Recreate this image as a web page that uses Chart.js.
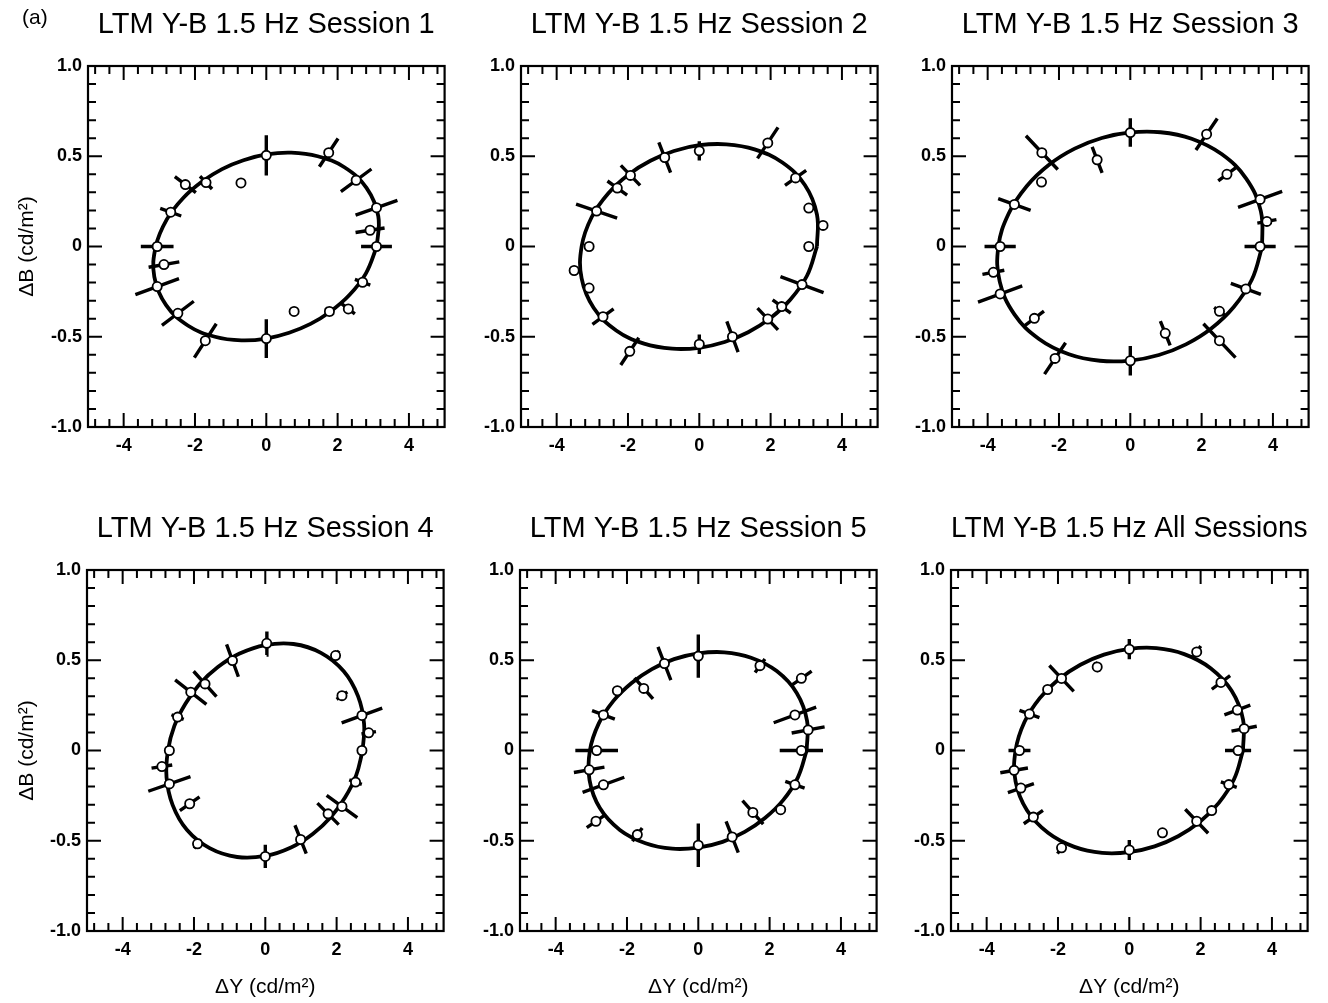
<!DOCTYPE html>
<html>
<head>
<meta charset="utf-8">
<title>LTM Y-B 1.5 Hz</title>
<script src="https://cdn.jsdelivr.net/npm/chart.js@4.4.0/dist/chart.umd.min.js"></script>
<style>
  html, body { margin: 0; padding: 0; background: #fff; }
  body { width: 1328px; height: 1003px; position: relative; overflow: hidden; }
  canvas { position: absolute; }
</style>
</head>
<body>
<canvas id="c1"></canvas>
<canvas id="c2"></canvas>
<canvas id="c3"></canvas>
<canvas id="c4"></canvas>
<canvas id="c5"></canvas>
<canvas id="c6"></canvas>
<script>
// ---- labels ----
const panelLabel = '(a)';
const titles = [
  'LTM Y-B 1.5 Hz Session 1',
  'LTM Y-B 1.5 Hz Session 2',
  'LTM Y-B 1.5 Hz Session 3',
  'LTM Y-B 1.5 Hz Session 4',
  'LTM Y-B 1.5 Hz Session 5',
  'LTM Y-B 1.5 Hz All Sessions'
];
const xAxisTitle = 'ΔY (cd/m²)';
const yAxisTitle = 'ΔB (cd/m²)';
const xTickValues = [-4, -2, 0, 2, 4];
const xTickLabels = ['-4', '-2', '0', '2', '4'];
const yTickValues = [-1, -0.5, 0, 0.5, 1];
const yTickLabels = ['-1.0', '-0.5', '0', '0.5', '1.0'];

// ---- fitted ellipses ----
const s1CurveX = [3.10, 3.14, 2.81, 2.19, 1.44, 0.70, 0, -0.64, -1.24, -1.80, -2.33, -2.79, -3.10, -3.14, -2.81, -2.19, -1.44, -0.70, 0, 0.64, 1.24, 1.80, 2.33, 2.79];
const s1CurveY = [0, 0.168, 0.325, 0.439, 0.500, 0.520, 0.510, 0.478, 0.429, 0.360, 0.269, 0.150, 0, -0.168, -0.325, -0.439, -0.500, -0.520, -0.510, -0.478, -0.429, -0.360, -0.269, -0.150];
const s2CurveX = [3.30, 3.30, 2.96, 2.33, 1.55, 0.76, 0, -0.71, -1.37, -1.99, -2.55, -3.02, -3.30, -3.30, -2.96, -2.33, -1.55, -0.76, 0, 0.71, 1.37, 1.99, 2.55, 3.02];
const s2CurveY = [0, 0.177, 0.341, 0.465, 0.538, 0.566, 0.561, 0.529, 0.475, 0.398, 0.295, 0.162, 0, -0.177, -0.341, -0.465, -0.538, -0.566, -0.561, -0.529, -0.475, -0.398, -0.295, -0.162];
const s3CurveX = [3.70, 3.66, 3.25, 2.56, 1.72, 0.85, 0, -0.80, -1.56, -2.27, -2.90, -3.41, -3.70, -3.66, -3.25, -2.56, -1.72, -0.85, 0, 0.80, 1.56, 2.27, 2.90, 3.41];
const s3CurveY = [0, 0.196, 0.376, 0.512, 0.597, 0.633, 0.632, 0.601, 0.542, 0.454, 0.335, 0.183, 0, -0.196, -0.376, -0.512, -0.597, -0.633, -0.632, -0.601, -0.542, -0.454, -0.335, -0.183];
const s4CurveX = [2.73, 2.77, 2.60, 2.20, 1.56, 0.79, 0, -0.72, -1.33, -1.84, -2.24, -2.55, -2.73, -2.77, -2.60, -2.20, -1.56, -0.79, 0, 0.72, 1.33, 1.84, 2.24, 2.55];
const s4CurveY = [0, 0.148, 0.301, 0.439, 0.541, 0.590, 0.584, 0.537, 0.462, 0.368, 0.259, 0.136, 0, -0.148, -0.301, -0.439, -0.541, -0.590, -0.584, -0.537, -0.462, -0.368, -0.259, -0.136];
const s5CurveX = [3.04, 3.05, 2.76, 2.20, 1.48, 0.73, 0, -0.68, -1.30, -1.87, -2.38, -2.79, -3.04, -3.05, -2.76, -2.20, -1.48, -0.73, 0, 0.68, 1.30, 1.87, 2.38, 2.79];
const s5CurveY = [0, 0.164, 0.319, 0.440, 0.514, 0.544, 0.538, 0.506, 0.451, 0.374, 0.275, 0.150, 0, -0.164, -0.319, -0.440, -0.514, -0.544, -0.538, -0.506, -0.451, -0.374, -0.275, -0.150];
const s6CurveX = [3.19, 3.19, 2.87, 2.28, 1.54, 0.76, 0, -0.71, -1.37, -1.98, -2.51, -2.94, -3.19, -3.19, -2.87, -2.28, -1.54, -0.76, 0, 0.71, 1.37, 1.98, 2.51, 2.94];
const s6CurveY = [0, 0.171, 0.331, 0.456, 0.534, 0.567, 0.563, 0.531, 0.475, 0.395, 0.290, 0.158, 0, -0.171, -0.331, -0.456, -0.534, -0.567, -0.563, -0.531, -0.475, -0.395, -0.290, -0.158];

// ---- thresholds: position and relative error along the test direction ----
const s1X = [0, 1.75, 2.52, 3.09, 2.91, 3.09, 2.70, 2.30, 1.77, 0.78, 0, -1.71, -2.48, -3.06, -2.87, -3.06, -2.68, -2.27, -1.69, -0.71];
const s1Y = [0.505, 0.52, 0.367, 0.215, 0.09, 0, -0.198, -0.346, -0.36, -0.36, -0.51, -0.522, -0.37, -0.222, -0.1, 0, 0.19, 0.343, 0.354, 0.352];
const s1Err = [0.22, 0.15, 0.17, 0.19, 0.14, 0.14, 0.08, 0.08, 0.06, 0, 0.21, 0.18, 0.18, 0.2, 0.15, 0.15, 0.11, 0.13, 0.1, 0];

const s2X = [-0.97, 0, 1.92, 2.70, 3.07, 3.47, 3.07, 2.88, 2.31, 1.92, 0.93, 0, -1.95, -2.70, -3.09, -3.51, -3.09, -2.88, -2.30, -1.93];
const s2Y = [0.493, 0.53, 0.574, 0.38, 0.213, 0.117, 0, -0.211, -0.333, -0.402, -0.5, -0.541, -0.581, -0.389, -0.23, -0.133, 0, 0.196, 0.324, 0.394];
const s2Err = [0.17, 0.1, 0.15, 0.11, 0.04, 0.03, 0.03, 0.21, 0.11, 0.15, 0.17, 0.1, 0.13, 0.11, 0.03, 0.03, 0.03, 0.2, 0.12, 0.14];

const s3X = [0, 2.14, 2.71, 3.64, 3.83, 3.64, 3.24, 2.50, 2.50, 0.98, 0, -2.11, -2.69, -3.65, -3.84, -3.65, -3.25, -2.49, -2.48, -0.93];
const s3Y = [0.631, 0.622, 0.40, 0.261, 0.139, 0, -0.235, -0.359, -0.522, -0.481, -0.633, -0.62, -0.398, -0.263, -0.143, 0, 0.233, 0.357, 0.52, 0.48];
const s3Err = [0.125, 0.14, 0.09, 0.17, 0.07, 0.12, 0.13, 0.06, 0.18, 0.14, 0.13, 0.14, 0.1, 0.17, 0.08, 0.12, 0.14, 0.04, 0.18, 0.15];

const s4X = [0.04, 1.97, 2.15, 2.71, 2.90, 2.71, 2.53, 2.15, 1.76, 0.99, 0, -1.90, -2.12, -2.69, -2.90, -2.69, -2.46, -2.09, -1.69, -0.92];
const s4Y = [0.594, 0.526, 0.304, 0.194, 0.098, 0, -0.175, -0.31, -0.351, -0.493, -0.587, -0.517, -0.295, -0.185, -0.089, 0, 0.185, 0.323, 0.369, 0.498];
const s4Err = [0.11, 0.05, 0.07, 0.21, 0.07, 0.03, 0.07, 0.2, 0.17, 0.16, 0.11, 0.05, 0.13, 0.22, 0.1, 0.03, 0.07, 0.21, 0.19, 0.18];

const s5X = [0, -0.95, 1.73, 2.89, 2.71, 3.08, 2.89, 2.71, 2.31, 1.53, 0.95, 0, -1.71, -2.87, -2.66, -3.06, -2.85, -2.66, -2.27, -1.53];
const s5Y = [0.523, 0.482, 0.47, 0.40, 0.197, 0.114, 0, -0.19, -0.328, -0.343, -0.479, -0.525, -0.466, -0.392, -0.19, -0.107, 0, 0.197, 0.331, 0.344];
const s5Err = [0.23, 0.19, 0.08, 0.1, 0.22, 0.15, 0.21, 0.1, 0.03, 0.19, 0.18, 0.23, 0.08, 0.09, 0.22, 0.14, 0.21, 0.12, 0.04, 0.17];

const s6X = [0, -0.90, 1.89, 2.57, 3.03, 3.22, 3.05, 2.79, 2.31, 1.89, 0.93, 0, -1.90, -2.69, -3.04, -3.23, -3.08, -2.80, -2.29, -1.90];
const s6Y = [0.561, 0.463, 0.546, 0.377, 0.224, 0.121, 0, -0.189, -0.333, -0.392, -0.456, -0.551, -0.539, -0.369, -0.208, -0.11, 0, 0.202, 0.338, 0.399];
const s6Err = [0.1, 0.06, 0.06, 0.1, 0.12, 0.11, 0.12, 0.08, 0.03, 0.17, 0.05, 0.1, 0.06, 0.1, 0.12, 0.12, 0.1, 0.1, 0.03, 0.18];

// ---- helpers ----
const FONT = "'Liberation Sans', Arial, Helvetica, sans-serif";

function toPoints(xs, ys) {
  return xs.map((x, i) => ({ x: x, y: ys[i] }));
}

function closedCurve(xs, ys) {
  const pts = toPoints(xs, ys);
  pts.push(pts[0]);
  return pts;
}

// radial error bars: each bar lies on the line from the origin through the point
function errorBars(xs, ys, errs) {
  const out = [];
  xs.forEach((x, i) => {
    const y = ys[i], e = errs[i];
    if (!e) return;
    out.push({ x: x * (1 - e), y: y * (1 - e) });
    out.push({ x: x * (1 + e), y: y * (1 + e) });
    out.push({ x: null, y: null });
  });
  return out;
}

// box with inward ticks on all four sides
const frameTicks = {
  id: 'frameTicks',
  afterDatasetsDraw(chart) {
    const { ctx, chartArea: a, scales: { x, y } } = chart;
    ctx.save();
    ctx.strokeStyle = '#000';
    ctx.lineWidth = 2;
    ctx.beginPath();
    for (let k = -12; k <= 12; k++) {
      const v = k * 0.4;
      const len = k % 5 === 0 ? 14 : 8;
      const px = x.getPixelForValue(v);
      ctx.moveTo(px, a.bottom); ctx.lineTo(px, a.bottom - len);
      ctx.moveTo(px, a.top); ctx.lineTo(px, a.top + len);
    }
    for (let k = -9; k <= 9; k++) {
      const v = k * 0.1;
      const len = k % 5 === 0 ? 14 : 8;
      const py = y.getPixelForValue(v);
      ctx.moveTo(a.left, py); ctx.lineTo(a.left + len, py);
      ctx.moveTo(a.right, py); ctx.lineTo(a.right - len, py);
    }
    ctx.stroke();
    ctx.lineWidth = 2.2;
    ctx.strokeRect(a.left, a.top, a.right - a.left, a.bottom - a.top);
    ctx.restore();
  }
};

const panelTag = {
  id: 'panelTag',
  afterDraw(chart, args, opts) {
    if (!opts.text) return;
    const ctx = chart.ctx;
    ctx.save();
    ctx.fillStyle = '#000';
    ctx.font = '21px ' + FONT;
    ctx.textAlign = 'left';
    ctx.textBaseline = 'middle';
    ctx.fillText(opts.text, 22, 10);
    ctx.restore();
  }
};

const PLOT_W = 359;
const PLOT_H = 361;
const TITLE_SIZE = 29;
const TITLE_BLOCK = 58;

const panels = [
  { id: 'c1', left: 0,   top: 8,   yw: 88, xh: 40, yTitle: true,  xTitle: false, title: titles[0], cx: s1CurveX, cy: s1CurveY, px: s1X, py: s1Y, pe: s1Err, tag: panelLabel },
  { id: 'c2', left: 471, top: 8,   yw: 50, xh: 40, yTitle: false, xTitle: false, title: titles[1], cx: s2CurveX, cy: s2CurveY, px: s2X, py: s2Y, pe: s2Err },
  { id: 'c3', left: 902, top: 8,   yw: 50, xh: 40, yTitle: false, xTitle: false, title: titles[2], cx: s3CurveX, cy: s3CurveY, px: s3X, py: s3Y, pe: s3Err },
  { id: 'c4', left: 0,   top: 512, yw: 87, xh: 70, yTitle: true,  xTitle: true,  title: titles[3], cx: s4CurveX, cy: s4CurveY, px: s4X, py: s4Y, pe: s4Err },
  { id: 'c5', left: 470, top: 512, yw: 50, xh: 70, yTitle: false, xTitle: true,  title: titles[4], cx: s5CurveX, cy: s5CurveY, px: s5X, py: s5Y, pe: s5Err },
  { id: 'c6', left: 901, top: 512, yw: 50, xh: 70, yTitle: false, xTitle: true,  title: titles[5], cx: s6CurveX, cy: s6CurveY, px: s6X, py: s6Y, pe: s6Err }
];

panels.forEach(p => {
  const canvas = document.getElementById(p.id);
  canvas.width = p.yw + PLOT_W + 4;
  canvas.height = TITLE_BLOCK + PLOT_H + p.xh;
  canvas.style.left = p.left + 'px';
  canvas.style.top = p.top + 'px';

  new Chart(canvas.getContext('2d'), {
    type: 'scatter',
    data: {
      datasets: [
        {
          data: toPoints(p.px, p.py),
          pointRadius: 4.6,
          pointBackgroundColor: '#fff',
          pointBorderColor: '#000',
          pointBorderWidth: 1.8,
          showLine: false,
          order: 0
        },
        {
          data: errorBars(p.px, p.py, p.pe),
          showLine: true,
          borderColor: '#000',
          borderWidth: 3.4,
          pointRadius: 0,
          tension: 0,
          spanGaps: false,
          order: 1
        },
        {
          data: closedCurve(p.cx, p.cy),
          showLine: true,
          borderColor: '#000',
          borderWidth: 3.8,
          pointRadius: 0,
          tension: 0.4,
          order: 2
        }
      ]
    },
    options: {
      responsive: false,
      animation: false,
      events: [],
      layout: { padding: { left: 0, right: 4, top: 0, bottom: 0 } },
      plugins: {
        legend: { display: false },
        tooltip: { enabled: false },
        title: {
          display: true,
          text: p.title,
          fullSize: false,
          color: '#000',
          font: { family: FONT, size: TITLE_SIZE, weight: 'normal' },
          padding: { top: 0, bottom: TITLE_BLOCK - TITLE_SIZE * 1.2 }
        },
        panelTag: { text: p.tag || '' }
      },
      scales: {
        x: {
          type: 'linear',
          min: -5,
          max: 5,
          afterBuildTicks: s => { s.ticks = xTickValues.map(v => ({ value: v })); },
          afterFit: s => { s.height = p.xh; },
          grid: { display: false, drawTicks: false },
          border: { display: false },
          ticks: {
            autoSkip: false,
            maxRotation: 0,
            padding: 8,
            color: '#000',
            font: { family: FONT, size: 18, weight: 'bold' },
            callback: (v, i) => xTickLabels[i]
          },
          title: {
            display: p.xTitle,
            text: xAxisTitle,
            color: '#000',
            font: { family: FONT, size: 21 },
            padding: { top: 0, bottom: 1 }
          }
        },
        y: {
          type: 'linear',
          min: -1,
          max: 1,
          afterBuildTicks: s => { s.ticks = yTickValues.map(v => ({ value: v })); },
          afterFit: s => { s.width = p.yw; },
          grid: { display: false, drawTicks: false },
          border: { display: false },
          ticks: {
            autoSkip: false,
            padding: 6,
            color: '#000',
            font: { family: FONT, size: 18, weight: 'bold' },
            callback: (v, i) => yTickLabels[i]
          },
          title: {
            display: p.yTitle,
            text: yAxisTitle,
            color: '#000',
            font: { family: FONT, size: 21 },
            padding: { top: 14.2, bottom: 0 }
          }
        }
      }
    },
    plugins: [frameTicks, panelTag]
  });
});
</script>
</body>
</html>
